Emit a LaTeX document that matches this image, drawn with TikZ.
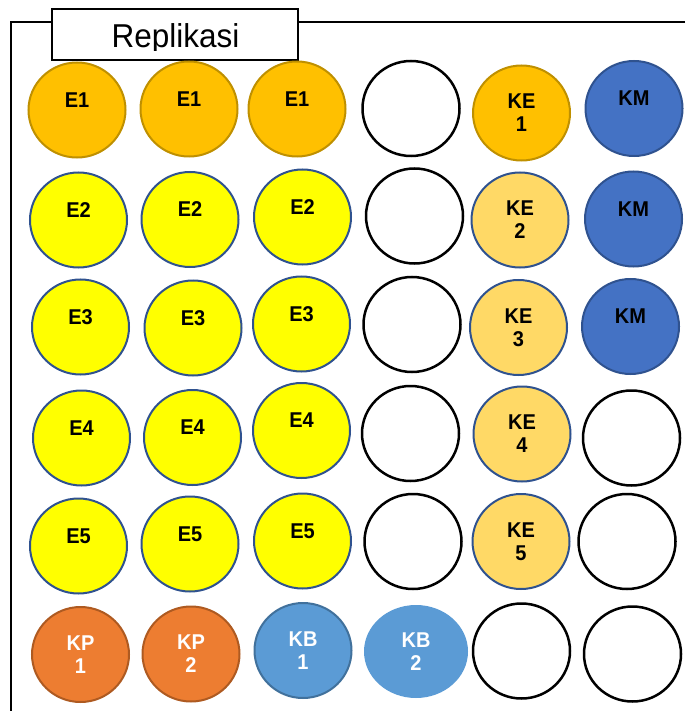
\documentclass[tikz,border=0pt]{standalone}
\usepackage{fontspec}
\setmainfont{Liberation Sans}
\usetikzlibrary{shapes.geometric}
\definecolor{gold}{HTML}{FFC000}
\definecolor{goldline}{HTML}{BF9000}
\definecolor{yel}{HTML}{FFFF00}
\definecolor{bline}{HTML}{2F528F}
\definecolor{lgold}{HTML}{FFD966}
\definecolor{kmblue}{HTML}{4472C4}
\definecolor{orng}{HTML}{ED7D31}
\definecolor{orngline}{HTML}{AE5A21}
\definecolor{kbblue}{HTML}{5B9BD5}
\definecolor{kbline}{HTML}{41719C}
\newcommand{\tallt}[1]{\scalebox{1}[1.07]{#1}}
\begin{document}
\begin{tikzpicture}[x=1pt,y=-1pt,
  wfont/.style={font=\fontsize{20}{23}\selectfont\bfseries},
  well/.style={ellipse, minimum width=97pt, minimum height=95pt, inner sep=0pt,
    line width=2pt, align=center, wfont},
  lbl/.style={wfont, text=black, inner sep=0pt},
  one/.style={label={[lbl,yshift=10pt]center:\tallt{#1}}},
  wEa/.style={well, fill=gold, draw=goldline},
  wE/.style={well, fill=yel, draw=bline},
  wKE/.style={well, fill=lgold, draw=bline},
  wKEa/.style={well, fill=gold, draw=goldline},
  wKM/.style={well, fill=kmblue, draw=bline},
  wKP/.style={well, fill=orng, draw=orngline, text=white},
  wKB/.style={well, fill=kbblue, draw=kbline, text=white},
  wKBn/.style={well, fill=kbblue, minimum width=104pt, minimum height=93pt, text=white},
  wEmpty/.style={well, fill=white, draw=black, line width=2.5pt},
  framel/.style={line width=2pt, draw=black}
]
\useasboundingbox (0,0) rectangle (685,711);
% frame
\coordinate (tr) at (685,22.5);
\coordinate (tl) at (11,22.5);
\coordinate (bl) at (11,711);
\draw[framel] (tr) -- (tl) -- (bl);
\node[draw=black, line width=2pt, fill=white, minimum width=246pt, minimum height=51pt,
  inner sep=0pt] (repbox) at (175,34.5) {};
\begin{scope}
  \clip (52,9) rectangle (298,50.5);
  \node[font=\fontsize{31.5}{36}\selectfont, anchor=base, inner sep=0pt] (replabel) at (175.5,47.5) {\scalebox{1}[1.05]{Replikasi}};
\end{scope}
% row 1
\node[wEa, one=E1] (r1c1) at (77,110) {};
\node[wEa, one=E1] (r1c2) at (189,109) {};
\node[wEa, one=E1] (r1c3) at (297,109) {};
\node[wEmpty] (r1c4) at (411,108.5) {};
\node[wKEa] (r1c5) at (521.5,113) {\tallt{KE}\\\tallt{1}};
\node[wKM, one=KM] (r1c6) at (634,108.5) {};
% row 2
\node[wE, one=E2] (r2c1) at (78.5,220) {};
\node[wE, one=E2] (r2c2) at (190,219.5) {};
\node[wE, one=E2] (r2c3) at (302.5,217) {};
\node[wEmpty] (r2c4) at (414.5,216) {};
\node[wKE] (r2c5) at (520,220) {\tallt{KE}\\\tallt{2}};
\node[wKM, one=KM] (r2c6) at (633.5,219) {};
% row 3
\node[wE, one=E3] (r3c1) at (80.5,327) {};
\node[wE, one=E3] (r3c2) at (193,328) {};
\node[wE, one=E3] (r3c3) at (301.5,324) {};
\node[wEmpty] (r3c4) at (412,324.5) {};
\node[wKE] (r3c5) at (518.5,327.5) {\tallt{KE}\\\tallt{3}};
\node[wKM, one=KM] (r3c6) at (630.5,326.5) {};
% row 4
\node[wE, one=E4] (r4c1) at (81.5,438) {};
\node[wE, one=E4] (r4c2) at (192.5,437.5) {};
\node[wE, one=E4] (r4c3) at (301.5,430.5) {};
\node[wEmpty] (r4c4) at (410.5,433.5) {};
\node[wKE] (r4c5) at (522,434) {\tallt{KE}\\\tallt{4}};
\node[wEmpty] (r4c6) at (631.5,438) {};
% row 5
\node[wE, one=E5] (r5c1) at (78.5,546) {};
\node[wE, one=E5] (r5c2) at (190,544) {};
\node[wE, one=E5] (r5c3) at (302.5,541) {};
\node[wEmpty] (r5c4) at (413,541.5) {};
\node[wKE] (r5c5) at (521,541.5) {\tallt{KE}\\\tallt{5}};
\node[wEmpty] (r5c6) at (627,541.5) {};
% row 6
\node[wKP] (r6c1) at (80.5,654.5) {\tallt{KP}\\\tallt{1}};
\node[wKP] (r6c2) at (191,654) {\tallt{KP}\\\tallt{2}};
\node[wKB] (r6c3) at (303,650.5) {\tallt{KB}\\\tallt{1}};
\node[wKBn] (r6c4) at (416,651.5) {\tallt{KB}\\\tallt{2}};
\node[wEmpty] (r6c5) at (521.5,651) {};
\node[wEmpty] (r6c6) at (632.5,654) {};
\end{tikzpicture}
\end{document}
